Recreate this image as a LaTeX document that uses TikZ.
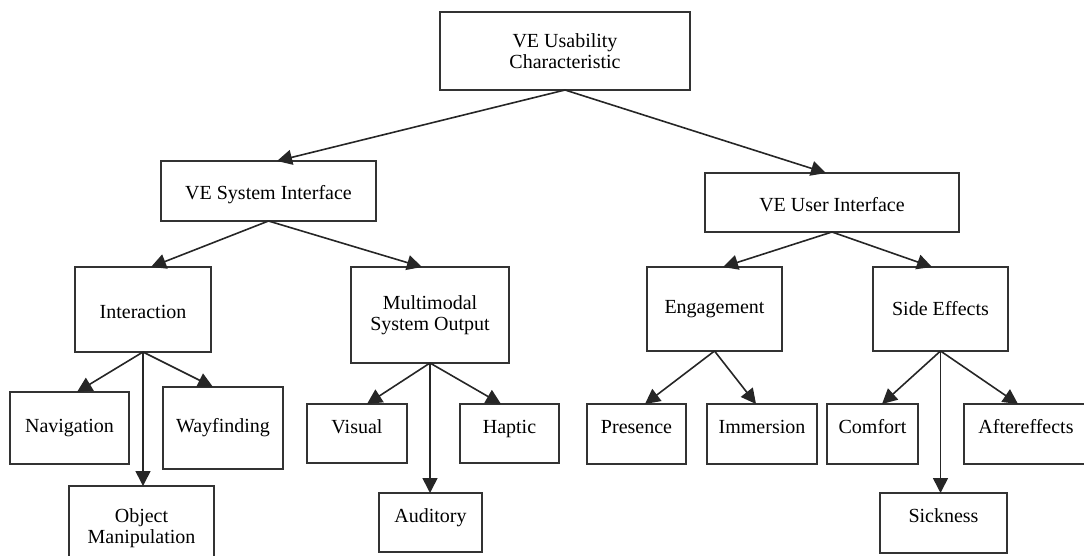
\documentclass[tikz,border=0pt]{standalone}
\usepackage{fontspec}
\setmainfont{Liberation Serif}
\usetikzlibrary{arrows.meta}
\tikzset{
    ubox/.style 2 args={
        draw=black!80,rectangle,line width=2pt,
        minimum width=#1,minimum height=#2,
        align=center,
        inner sep=0pt,outer sep=0pt,
        font=\fontsize{20}{21}\selectfont,
        },
    lift/.style={text height=14pt,text depth=15pt},
    sink/.style={text height=18pt,text depth=0pt},
    uarrow/.style={
        -{Triangle[length=15pt,width=15pt]},
        line width=1.6pt,draw=black!85,
        }
    }
\begin{document}
\begin{tikzpicture}[x=1pt,y=-1pt]
    \useasboundingbox (0,0) rectangle (1084,556);
    % levels 0 and 1
    \node[ubox={250pt}{78pt}] (top) at (565,51) {VE Usability\\Characteristic};
    \node[ubox={215pt}{60pt},sink] (vesi) at (268.5,191) {VE System Interface};
    \node[ubox={254pt}{59pt},sink] (veui) at (832,202.5) {VE User Interface};
    % level 2
    \node[ubox={136pt}{85pt},sink] (inter) at (143,309.5) {Interaction};
    \node[ubox={158pt}{96pt}] (multi) at (430,315) {Multimodal\\System Output};
    \node[ubox={135pt}{84pt}] (engage) at (714.5,309) {Engagement};
    \node[ubox={135pt}{84pt}] (side) at (940.5,309) {Side Effects};
    % level 3
    \node[ubox={119pt}{72pt}] (nav) at (69.5,428) {Navigation};
    \node[ubox={120pt}{82pt}] (way) at (223,428) {Wayfinding};
    \node[ubox={145pt}{84pt}] (obj) at (141.5,528) {Object\\Manipulation};
    \node[ubox={100pt}{59pt},lift] (visual) at (357,433.5) {Visual};
    \node[ubox={99pt}{59pt},lift] (haptic) at (509.5,433.5) {Haptic};
    \node[ubox={103pt}{59pt},lift] (audit) at (430.5,522.5) {Auditory};
    \node[ubox={99pt}{60pt},lift] (pres) at (636.5,434) {Presence};
    \node[ubox={110pt}{60pt},lift] (immer) at (762,434) {Immersion};
    \node[ubox={91pt}{60pt},lift] (comf) at (872.5,434) {Comfort};
    \node[ubox={124pt}{60pt},lift] (after) at (1026,434) {Aftereffects};
    \node[ubox={127pt}{60pt},lift] (sick) at (943.5,523) {Sickness};
    % connectors
    \draw[uarrow] (top.south) -- ([xshift=8.5pt]vesi.north);
    \draw[uarrow] (top.south) -- ([xshift=-6pt]veui.north);
    \draw[uarrow] (vesi.south) -- ([xshift=8pt]inter.north);
    \draw[uarrow] (vesi.south) -- ([xshift=-8pt]multi.north);
    \draw[uarrow] (veui.south) -- ([xshift=8.5pt]engage.north);
    \draw[uarrow] (veui.south) -- ([xshift=-8.5pt]side.north);
    \draw[uarrow] (inter.south) -- ([xshift=7.5pt]nav.north);
    \draw[uarrow] (inter.south) -- ([xshift=-10pt]way.north);
    \draw[uarrow] (inter.south) -- (inter.south |- obj.north);
    \draw[uarrow] (multi.south) -- ([xshift=10pt]visual.north);
    \draw[uarrow] (multi.south) -- ([xshift=-8.5pt]haptic.north);
    \draw[uarrow] (multi.south) -- (multi.south |- audit.north);
    \draw[uarrow] (engage.south) -- ([xshift=8.5pt]pres.north);
    \draw[uarrow] (engage.south) -- ([xshift=-6pt]immer.north);
    \draw[uarrow] (side.south) -- ([xshift=9.5pt]comf.north);
    \draw[uarrow] (side.south) -- ([xshift=-8pt]after.north);
    \draw[uarrow] (side.south) -- (side.south |- sick.north);
\end{tikzpicture}
\end{document}
